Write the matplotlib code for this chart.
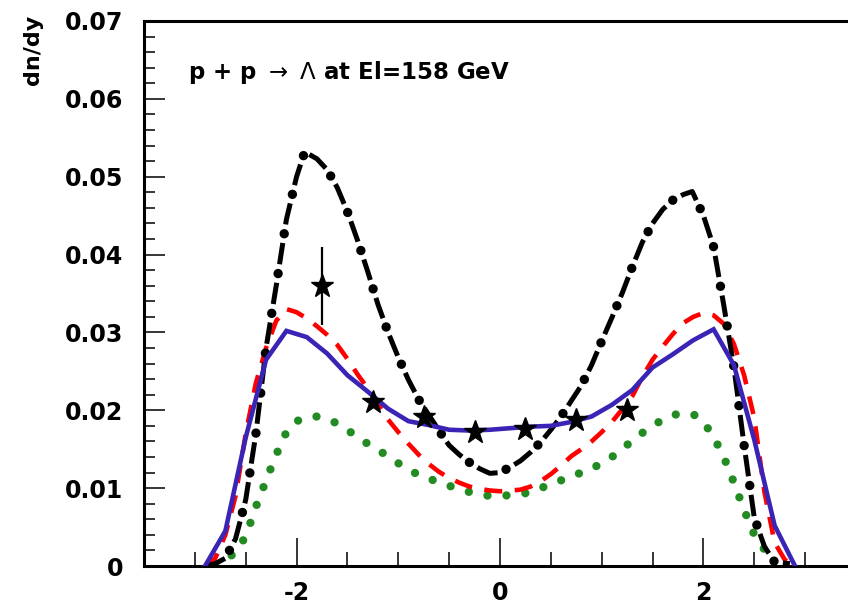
import numpy as np
import matplotlib
matplotlib.use('Agg')
import matplotlib.pyplot as plt
from matplotlib.ticker import MultipleLocator, FuncFormatter

plt.rcParams['font.family'] = ['DejaVu Sans']
plt.rcParams['axes.unicode_minus'] = False
plt.rcParams['lines.scale_dashes'] = False

# model curves, dn/dy vs y
black_x = [-2.9, -2.8, -2.7, -2.6, -2.5, -2.4, -2.3, -2.2, -2.1, -2.0, -1.92, -1.8, -1.7, -1.6,
           -1.5, -1.4, -1.3, -1.2, -1.1, -1.0, -0.9, -0.8, -0.7, -0.6, -0.5, -0.4, -0.3, -0.2,
           -0.1, 0.0, 0.1, 0.2, 0.3, 0.4, 0.5, 0.6, 0.7, 0.8, 0.9, 1.0, 1.1, 1.2, 1.3, 1.4,
           1.5, 1.6, 1.7, 1.8, 1.89, 2.0, 2.1, 2.2, 2.3, 2.4, 2.5, 2.6, 2.7, 2.85]
black_y = [0.0, 0.0003, 0.0010, 0.0035, 0.0085, 0.0170, 0.0280, 0.0360, 0.0445, 0.0500, 0.0532,
           0.0523, 0.0509, 0.0486, 0.0455, 0.0418, 0.0378, 0.0336, 0.0300, 0.0268, 0.0239,
           0.0214, 0.0194, 0.0174, 0.0155, 0.0143, 0.0133, 0.0125, 0.0119, 0.0120, 0.0127,
           0.0135, 0.0146, 0.0159, 0.0175, 0.0192, 0.0212, 0.0232, 0.0258, 0.0289, 0.0319,
           0.0350, 0.0384, 0.0416, 0.0440, 0.0458, 0.0470, 0.0477, 0.0481, 0.0450, 0.0410,
           0.0335, 0.0255, 0.0155, 0.0062, 0.0025, 0.0005, 0.0003]

red_x = np.round(np.arange(-2.9, 2.95, 0.1), 1)
red_y = [0.0, 0.0010, 0.0040, 0.0090, 0.0170, 0.0235, 0.0280, 0.0315, 0.0330, 0.0326,
         0.0318, 0.0308, 0.0297, 0.0284, 0.0266, 0.0246, 0.0228, 0.0208, 0.0188, 0.0172,
         0.0157, 0.0143, 0.0131, 0.0121, 0.0113, 0.0107, 0.0102, 0.0099, 0.0097, 0.0096,
         0.0097, 0.0098, 0.0102, 0.0109, 0.0118, 0.0129, 0.0141, 0.0150, 0.0160, 0.0172,
         0.0185, 0.0201, 0.0218, 0.0243, 0.0265, 0.0282, 0.0298, 0.0312, 0.0320, 0.0325,
         0.0322, 0.0311, 0.0285, 0.0245, 0.0190, 0.0095, 0.0030, 0.0008, 0.0]

blue_x = [-2.9, -2.7, -2.5, -2.3, -2.1, -1.9, -1.7, -1.5, -1.3, -1.1, -0.9, -0.7, -0.5, -0.3,
          -0.1, 0.1, 0.3, 0.5, 0.7, 0.9, 1.1, 1.3, 1.5, 1.7, 1.9, 2.1, 2.3, 2.5, 2.7, 2.9]
blue_y = [0.0, 0.0045, 0.0165, 0.0265, 0.0302, 0.0294, 0.0273, 0.0245, 0.0224, 0.0202,
          0.0186, 0.0181, 0.0175, 0.0174, 0.0175, 0.0177, 0.0179, 0.0180, 0.0185, 0.0192,
          0.0207, 0.0226, 0.0255, 0.0272, 0.0290, 0.0304, 0.0258, 0.0162, 0.0052, 0.0]

green_x = np.round(np.arange(-2.8, 2.75, 0.1), 1)
green_y = [0.0002, 0.0007, 0.0018, 0.0038, 0.0076, 0.0110, 0.0143, 0.0172, 0.0186, 0.0191,
           0.0192, 0.0189, 0.0183, 0.0175, 0.0165, 0.0157, 0.0149, 0.0141, 0.0132, 0.0124,
           0.0117, 0.0112, 0.0108, 0.0103, 0.0099, 0.0095, 0.0092, 0.0090, 0.0090, 0.0091,
           0.0092, 0.0095, 0.0100, 0.0105, 0.0110, 0.0115, 0.0120, 0.0125, 0.0132, 0.0140,
           0.0150, 0.0161, 0.0171, 0.0180, 0.0188, 0.0194, 0.0196, 0.0195, 0.0185, 0.0166,
           0.0140, 0.0107, 0.0072, 0.0040, 0.0021, 0.0003]

# measured points
data_x = [-1.75, -1.25, -0.75, -0.25, 0.25, 0.75, 1.25]
data_y = [0.0360, 0.0211, 0.0192, 0.0172, 0.0176, 0.0188, 0.0200]
data_err = [0.0050, 0.0008, 0.0008, 0.0008, 0.0008, 0.0008, 0.0008]

fig = plt.figure(figsize=(8.48, 6.06), dpi=100)
ax = fig.add_axes([144 / 848, 40 / 606, 712 / 848, 545 / 606])

ax.plot(green_x, green_y, color='#228b22', lw=6, linestyle=(0, (0.01, 13.7)),
        dash_capstyle='round', zorder=2)
ax.plot(red_x, red_y, color='#ff0000', lw=3.3, linestyle=(0, (13, 9)), zorder=3)
ax.plot(black_x, black_y, color='black', lw=3.6, linestyle=(0, (15.5, 13.5)), zorder=4)
ax.plot(black_x, black_y, color='black', lw=6.8, linestyle=(6.8, (0.01, 28.99)),
        dash_capstyle='round', zorder=4)
ax.plot(blue_x, blue_y, color='#3a24b6', lw=3.3, solid_joinstyle='miter', zorder=5)
ax.errorbar(data_x, data_y, yerr=data_err, fmt='*', color='black', ms=17, elinewidth=1.6,
            capsize=0, zorder=6)

ax.set_xlim(-3.5, 3.5)
ax.set_ylim(0, 0.07)
ax.xaxis.set_major_locator(MultipleLocator(2))
ax.xaxis.set_minor_locator(MultipleLocator(0.5))
ax.yaxis.set_major_locator(MultipleLocator(0.01))
ax.yaxis.set_minor_locator(MultipleLocator(0.002))
ax.yaxis.set_major_formatter(FuncFormatter(lambda v, p: '0' if abs(v) < 1e-9 else '%.2f' % v))
ax.xaxis.set_major_formatter(FuncFormatter(lambda v, p: '%d' % round(v)))

ax.tick_params(axis='x', which='major', direction='in', length=20, width=1.1, pad=11,
               labelsize=17)
ax.tick_params(axis='x', which='minor', direction='in', length=10, width=1.1)
ax.tick_params(axis='y', which='major', direction='in', length=15, width=1.1, pad=15,
               labelsize=17)
ax.tick_params(axis='y', which='minor', direction='in', length=8, width=1.1)
for lab in ax.get_xticklabels() + ax.get_yticklabels():
    lab.set_fontweight('bold')
for s in ax.spines.values():
    s.set_linewidth(2.2)

ax.text(-3.07, 0.0634, r'p + p $\rightarrow$ $\Lambda$ at El=158 GeV', fontsize=16.5,
        fontweight='bold', ha='left', va='center')
fig.text(33 / 848, 1 - 15 / 606, 'dn/dy', rotation=90, ha='center', va='top',
         fontsize=16, fontweight='bold')

fig.savefig('out.png', dpi=100)
